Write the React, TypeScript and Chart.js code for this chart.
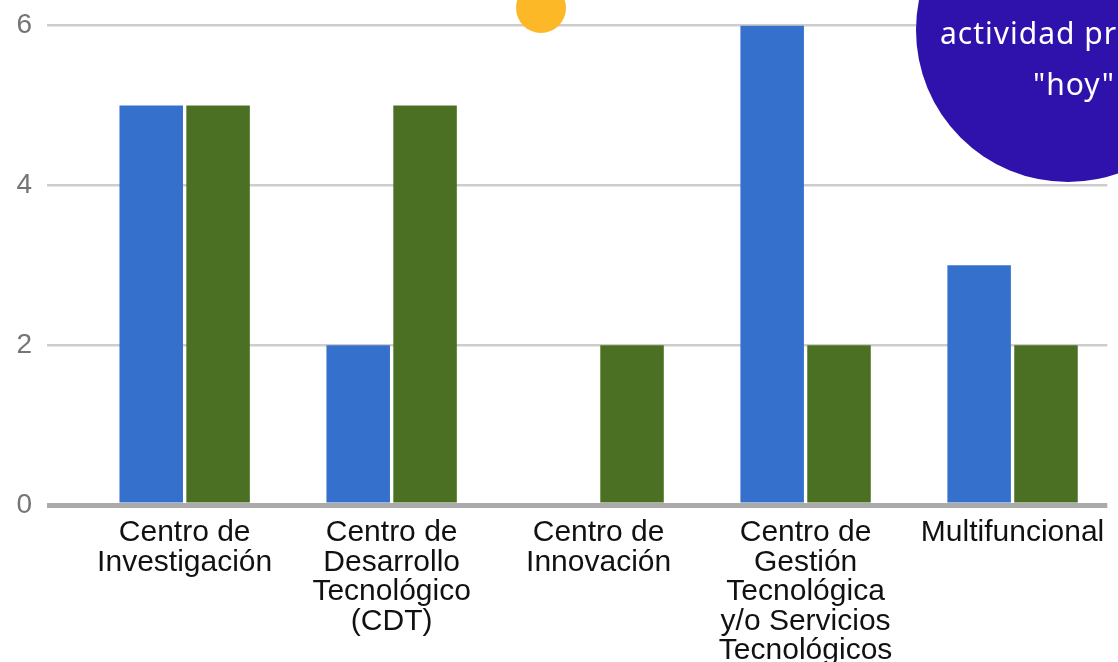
import React, { useEffect, useRef } from "react";
import { Chart, registerables } from "chart.js";

Chart.register(...registerables);

// ---- data ----
const categoryLabels: string[][] = [
  ["Centro de", "Investigación"],
  ["Centro de", "Desarrollo", "Tecnológico", "(CDT)"],
  ["Centro de", "Innovación"],
  ["Centro de", "Gestión", "Tecnológica", "y/o Servicios", "Tecnológicos"],
  ["Multifuncional"],
];
const seriesBlue: number[] = [5, 2, 0, 6, 3];
const seriesGreen: number[] = [5, 5, 2, 2, 2];
const yTickValues: number[] = [0, 2, 4, 6];
const calloutLines: string[] = ["actividad pr", "\"hoy\""];

const BLUE = "#3570cc";
const GREEN = "#4b7023";

const decorPlugin = {
  id: "decor",
  afterDraw(chart: any) {
    const ctx = chart.ctx as CanvasRenderingContext2D;
    ctx.save();
    // yellow dot
    ctx.fillStyle = "#fcb826";
    ctx.beginPath();
    ctx.arc(541, 8, 25, 0, Math.PI * 2);
    ctx.fill();
    // purple callout
    ctx.fillStyle = "#2e12ab";
    ctx.beginPath();
    ctx.arc(1068, 30, 152, 0, Math.PI * 2);
    ctx.fill();
    ctx.fillStyle = "#ffffff";
    ctx.font = "30px 'Noto Sans', sans-serif";
    (ctx as any).letterSpacing = "1px";
    ctx.textBaseline = "alphabetic";
    ctx.textAlign = "left";
    ctx.fillText(calloutLines[0], 940, 44);
    ctx.textAlign = "center";
    ctx.fillText(calloutLines[1], 1074, 95);
    (ctx as any).letterSpacing = "0px";
    ctx.restore();
  },
};

export default function App() {
  const ref = useRef<HTMLCanvasElement | null>(null);

  useEffect(() => {
    if (!ref.current) return;
    const chart = new Chart(ref.current, {
      type: "bar",
      data: {
        datasets: [
          {
            label: "A",
            data: seriesBlue.map((v, i) => ({ x: i, y: v })),
            backgroundColor: BLUE,
            borderWidth: 0,
          },
          {
            label: "B",
            data: seriesGreen.map((v, i) => ({ x: i, y: v })),
            backgroundColor: GREEN,
            borderWidth: 0,
          },
        ],
      },
      options: {
        responsive: false,
        animation: false,
        devicePixelRatio: 1,
        categoryPercentage: 0.646,
        barPercentage: 0.95,
        layout: { padding: { top: 25.5, right: 8, left: 0, bottom: 0 } },
        plugins: {
          legend: { display: false },
          tooltip: { enabled: false },
        },
        scales: {
          x: {
            type: "linear",
            min: -0.6651,
            max: 4.4578,
            bounds: "data",
            offset: false,
            grid: { display: false, drawTicks: false, offset: false },
            border: { display: false },
            afterBuildTicks: (scale: any) => {
              scale.ticks = categoryLabels.map((_, i) => ({ value: i }));
            },
            afterFit: (scale: any) => {
              scale.height = 157;
            },
            ticks: {
              autoSkip: false,
              maxRotation: 0,
              minRotation: 0,
              padding: 13,
              color: "#111111",
              font: { family: "'Liberation Sans', Arial, sans-serif", size: 30, lineHeight: 0.985 },
              callback: (value: any) => {
                const idx = Math.round(Number(value));
                return categoryLabels[idx] ?? "";
              },
            },
          },
          y: {
            min: 0,
            max: 6,
            afterBuildTicks: (scale: any) => {
              scale.ticks = yTickValues.map((v) => ({ value: v }));
            },
            afterFit: (scale: any) => {
              scale.width = 47;
              scale.paddingTop = 0;
              scale.paddingBottom = 0;
            },
            grid: {
              drawTicks: false,
              color: (c: any) => (c.tick && c.tick.value === 0 ? "#ababab" : "#cdcdcd"),
              lineWidth: (c: any) => (c.tick && c.tick.value === 0 ? 5 : 2.5),
            },
            border: { display: false },
            ticks: {
              padding: 15,
              color: "#757575",
              font: { family: "'Liberation Sans', Arial, sans-serif", size: 28 },
            },
          },
        },
      },
      plugins: [decorPlugin],
    });
    return () => chart.destroy();
  }, []);

  return (
    <div style={{ position: "absolute", left: 0, top: 0, width: 1118, height: 662, background: "#fff" }}>
      <canvas ref={ref} width={1118} height={662} style={{ display: "block" }} />
    </div>
  );
}
